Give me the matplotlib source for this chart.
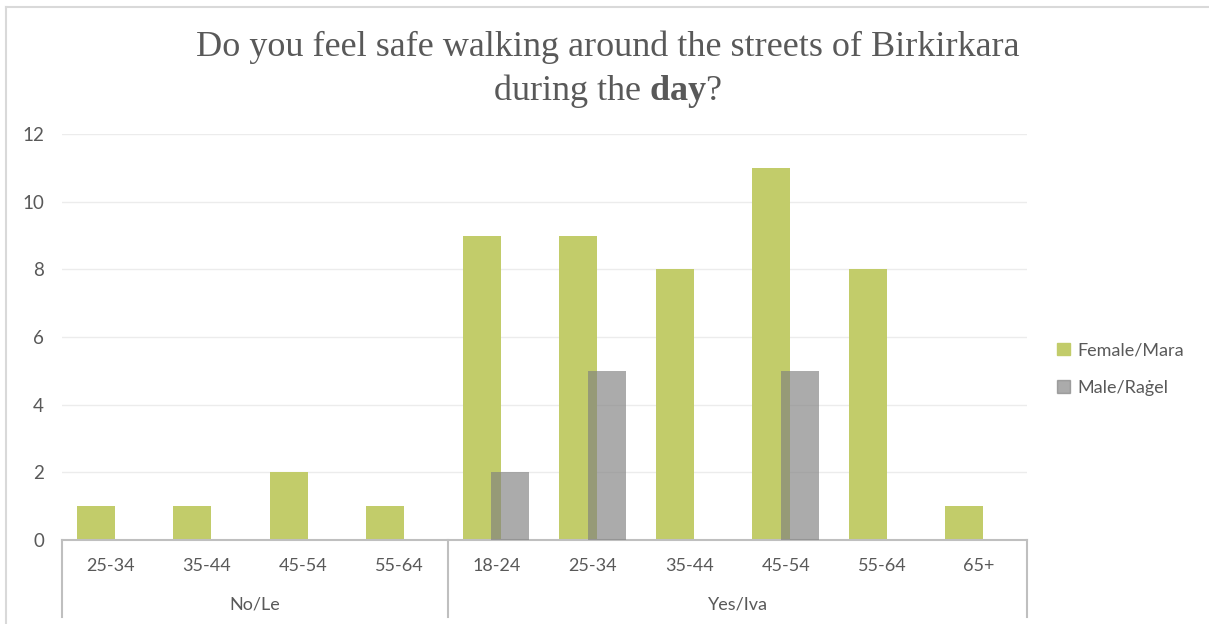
import matplotlib.pyplot as plt
from matplotlib.patches import Patch
from matplotlib.lines import Line2D
import numpy as np

# data
groups = ["No/Le", "Yes/Iva"]
no_ages = ["25-34", "35-44", "45-54", "55-64"]
yes_ages = ["18-24", "25-34", "35-44", "45-54", "55-64", "65+"]
female_no = [1, 1, 2, 1]
male_no = [0, 0, 0, 0]
female_yes = [9, 9, 8, 11, 8, 1]
male_yes = [2, 5, 0, 5, 0, 0]

categories = no_ages + yes_ages
female = female_no + female_yes
male = male_no + male_yes

GREEN = "#c2cc6a"
GREY = "#7f7f7f"
TXT = "#595959"

plt.rcParams["font.family"] = ["Lato", "DejaVu Sans"]
plt.rcParams["mathtext.fontset"] = "custom"
plt.rcParams["mathtext.rm"] = "Liberation Serif"
plt.rcParams["mathtext.bf"] = "Liberation Serif:bold"

fig = plt.figure(figsize=(12.09, 6.24), dpi=100)
ax = fig.add_axes([62 / 1209, 1 - 540 / 624, 965 / 1209, 406 / 624])

x = np.arange(len(categories))
w = 0.39
ax.bar(x - 0.15, female, width=w, color=GREEN, zorder=2)
ax.bar(x + 0.145, male, width=w, color=GREY, alpha=0.65, zorder=3)

ax.set_xlim(-0.5, len(categories) - 0.5)
ax.set_ylim(0, 12)
ax.set_yticks(range(0, 13, 2))
ax.tick_params(axis="y", length=0, pad=13, labelsize=13.5, labelcolor=TXT)
ax.set_xticks([])
ax.grid(axis="y", color="#ececec", linewidth=1, zorder=0)
for s in ["top", "right", "left"]:
    ax.spines[s].set_visible(False)
ax.spines["bottom"].set_color("#bfbfbf")
ax.spines["bottom"].set_linewidth(1.5)

# category + group labels underneath
trans = ax.get_xaxis_transform()
for i, c in enumerate(categories):
    ax.text(i, -26 / 406, c, transform=trans, ha="center", va="center",
            fontsize=13, color=TXT)
ax.text((len(no_ages) - 1) / 2, -65 / 406, groups[0], transform=trans,
        ha="center", va="center", fontsize=13, color=TXT)
ax.text(len(no_ages) + (len(yes_ages) - 1) / 2, -65 / 406, groups[1],
        transform=trans, ha="center", va="center", fontsize=13, color=TXT)
for xs in [-0.5, len(no_ages) - 0.5, len(categories) - 0.5]:
    ax.add_line(Line2D([xs, xs], [0, -77 / 406], transform=trans,
                       color="#bfbfbf", linewidth=1.5, clip_on=False))

# title
fig.text(0.503, 1 - 70 / 624,
         "Do you feel safe walking around the streets of Birkirkara\n"
         r"during the $\mathbf{day}$?",
         ha="center", va="center", fontsize=26, color=TXT,
         family="Liberation Serif", linespacing=1.27)

handles = [Patch(color=GREEN), Patch(color=GREY, alpha=0.65)]
fig.legend(handles, ["Female/Mara", "Male/Raġel"], loc="center left",
           bbox_to_anchor=(1041 / 1209, 1 - 369 / 624), frameon=False,
           handlelength=0.7, handleheight=0.7, handletextpad=0.4,
           labelspacing=1.2, fontsize=13, labelcolor=TXT)

# outer frame lines (top and left)
fig.add_artist(Line2D([6 / 1209, 1], [1 - 7 / 624] * 2, transform=fig.transFigure,
                      color="#d9d9d9", linewidth=1.5))
fig.add_artist(Line2D([6 / 1209] * 2, [0, 1 - 7 / 624], transform=fig.transFigure,
                      color="#d9d9d9", linewidth=1.5))

fig.savefig("out.png", dpi=100)
